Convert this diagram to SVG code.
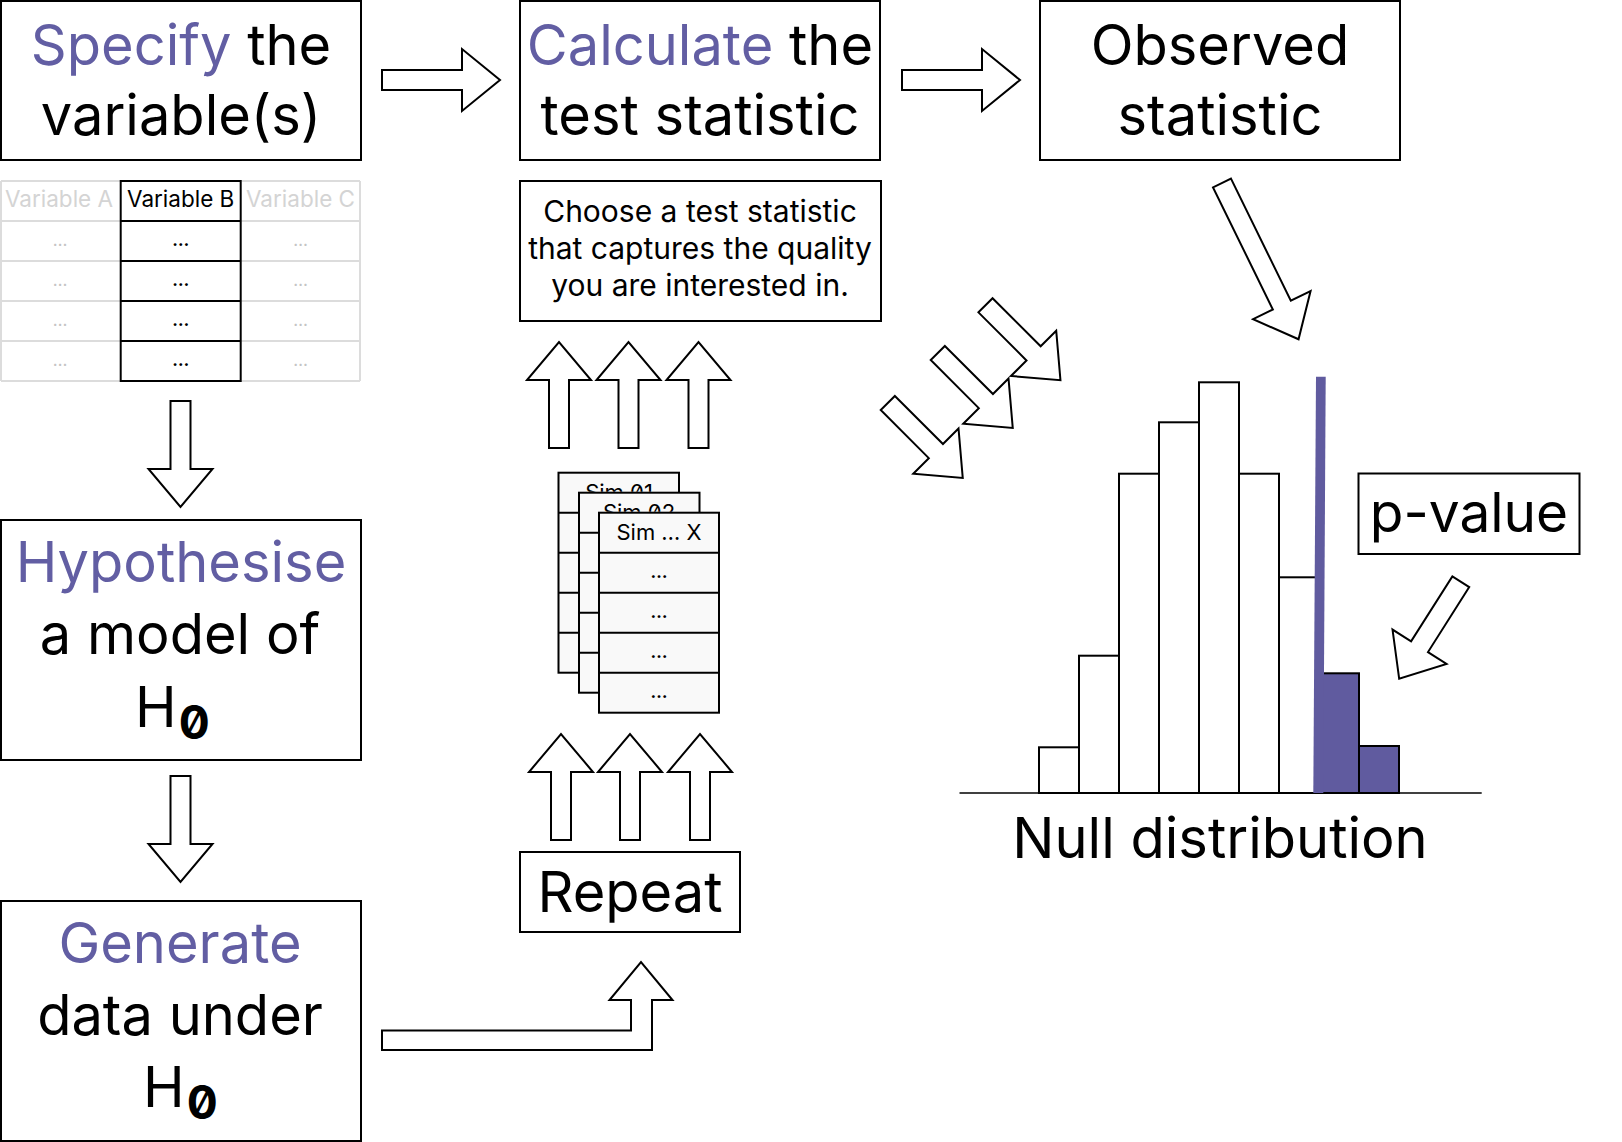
<svg xmlns="http://www.w3.org/2000/svg" width="1622" height="1142" viewBox="0 0 1622 1142">
<defs>
<style>
text{font-family:Inter,"Noto Sans","Liberation Sans",sans-serif;fill:#000}
.big{font-size:56px;text-anchor:middle}
.pur{fill:#625ea3}
.box{fill:#fff;stroke:#000;stroke-width:2}
.arr{fill:#fff;stroke:#000;stroke-width:2;stroke-linejoin:miter}
.gl{stroke:#dcdcdc;stroke-width:2;fill:none}
.bl{stroke:#000;stroke-width:2;fill:none}
.tv{font-size:22px;text-anchor:middle}
.tg{fill:#d4d4d4}
.dots{font-size:17px;text-anchor:middle;font-weight:700}
.dg{fill:#c4c4c4;font-weight:400}
.sim{fill:#f9f9f9;stroke:#000;stroke-width:2}
.z{font-feature-settings:"zero" 1}
.bar{fill:#fff;stroke:#000;stroke-width:2}
.barp{fill:#605b9f;stroke:#000;stroke-width:2}
.ch{font-size:30px;text-anchor:middle}
</style>
<clipPath id="c01"><rect x="558.5" y="472.7" width="120.5" height="19"/></clipPath>
<clipPath id="c02"><rect x="579" y="492.7" width="120.5" height="19"/></clipPath>
<polygon id="arrH" points="0,-10 80,-10 80,-31 118,0 80,31 80,10 0,10"/>
<polygon id="arrV" points="0,-10 68,-10 68,-32 106,0 68,32 68,10 0,10"/>
</defs>

<g id="connectors">
<use href="#arrH" class="arr" transform="translate(382,80)"/>
<use href="#arrH" class="arr" transform="translate(902,80)"/>
<use href="#arrV" class="arr" transform="translate(180.5,401) rotate(90)"/>
<use href="#arrV" class="arr" transform="translate(180.5,776) rotate(90)"/>
<use href="#arrV" class="arr" transform="translate(559,448) rotate(-90)"/>
<use href="#arrV" class="arr" transform="translate(628.5,448) rotate(-90)"/>
<use href="#arrV" class="arr" transform="translate(698.5,448) rotate(-90)"/>
<use href="#arrV" class="arr" transform="translate(561,840) rotate(-90)"/>
<use href="#arrV" class="arr" transform="translate(630,840) rotate(-90)"/>
<use href="#arrV" class="arr" transform="translate(700,840) rotate(-90)"/>
<polygon class="arr" points="382,1030.5 631,1030.5 631,1000 609.5,1000 641,962 672.5,1000 652,1000 652,1050 382,1050"/>
<polygon class="arr" transform="translate(1222,183) rotate(63.9)" points="0,-10 136,-10 136,-32 174,0 136,32 136,10 0,10"/>
<use href="#arrV" class="arr" transform="translate(985.5,305.3) rotate(45)"/>
<use href="#arrV" class="arr" transform="translate(937.8,353) rotate(45)"/>
<use href="#arrV" class="arr" transform="translate(887.8,403) rotate(45)"/>
<polygon class="arr" transform="translate(1460.8,581.7) rotate(122.4)" points="0,-10 77,-10 77,-32 115,0 77,32 77,10 0,10"/>
</g>

<g id="specify">
<rect class="box" x="1" y="1" width="360" height="159"/>
<text class="big" x="181" y="65"><tspan class="pur">Specify</tspan> the</text>
<text class="big" x="181" y="135">variable(s)</text>
</g>

<g id="calculate">
<rect class="box" x="520" y="1" width="360" height="159"/>
<text class="big" x="700" y="65"><tspan class="pur">Calculate</tspan> the</text>
<text class="big" x="700" y="135">test statistic</text>
</g>

<g id="observed">
<rect class="box" x="1040" y="1" width="360" height="159"/>
<text class="big" x="1220" y="65">Observed</text>
<text class="big" x="1220" y="135">statistic</text>
</g>

<g id="variables-table">
<g class="gl">
<line x1="1" y1="181" x2="360" y2="181"/>
<line x1="1" y1="221" x2="360" y2="221"/>
<line x1="1" y1="261" x2="360" y2="261"/>
<line x1="1" y1="301" x2="360" y2="301"/>
<line x1="1" y1="341" x2="360" y2="341"/>
<line x1="1" y1="381" x2="360" y2="381"/>
<line x1="1" y1="181" x2="1" y2="381"/>
<line x1="360" y1="181" x2="360" y2="381"/>
</g>
<rect class="bl" x="120.7" y="181" width="120" height="200"/>
<g class="bl">
<line x1="120.7" y1="221" x2="240.7" y2="221"/>
<line x1="120.7" y1="261" x2="240.7" y2="261"/>
<line x1="120.7" y1="301" x2="240.7" y2="301"/>
<line x1="120.7" y1="341" x2="240.7" y2="341"/>
</g>
<text class="tv tg" x="59" y="207" style="font-size:22.5px">Variable A</text>
<text class="tv" x="180.7" y="207" style="font-size:22.5px">Variable B</text>
<text class="tv tg" x="300.5" y="207" style="font-size:22.5px">Variable C</text>
<text class="dots dg" x="60" y="246">…</text>
<text class="dots dg" x="60" y="286">…</text>
<text class="dots dg" x="60" y="326">…</text>
<text class="dots dg" x="60" y="366">…</text>
<text class="dots" x="180.7" y="246">…</text>
<text class="dots" x="180.7" y="286">…</text>
<text class="dots" x="180.7" y="326">…</text>
<text class="dots" x="180.7" y="366">…</text>
<text class="dots dg" x="300.5" y="246">…</text>
<text class="dots dg" x="300.5" y="286">…</text>
<text class="dots dg" x="300.5" y="326">…</text>
<text class="dots dg" x="300.5" y="366">…</text>
</g>

<g id="hypothesise">
<rect class="box" x="1" y="520" width="360" height="240"/>
<text class="big" x="181" y="582"><tspan class="pur">Hypothesise</tspan></text>
<text class="big" x="180" y="654">a model of</text>
<text x="135" y="727" style="font-size:56px">H<tspan class="z" dx="2" dy="12" style="font-size:46px;font-weight:700">0</tspan></text>
</g>

<g id="generate">
<rect class="box" x="1" y="901" width="360" height="240"/>
<text class="big" x="180" y="963"><tspan class="pur">Generate</tspan></text>
<text class="big" x="180" y="1035">data under</text>
<text x="143" y="1107" style="font-size:56px">H<tspan class="z" dx="2" dy="12" style="font-size:46px;font-weight:700">0</tspan></text>
</g>

<g id="choose">
<rect class="box" x="520" y="181" width="361" height="140"/>
<text class="ch" x="700" y="222">Choose a test statistic</text>
<text class="ch" x="700" y="259">that captures the quality</text>
<text class="ch" x="700" y="296">you are interested in.</text>
</g>

<g id="simulations">
<g id="sim01">
<rect class="sim" x="558.5" y="472.7" width="120.5" height="200"/>
<g class="bl"><line x1="558.5" y1="512.7" x2="679" y2="512.7"/><line x1="558.5" y1="552.7" x2="679" y2="552.7"/><line x1="558.5" y1="592.7" x2="679" y2="592.7"/><line x1="558.5" y1="632.7" x2="679" y2="632.7"/></g>
<text class="tv z" x="619" y="500" clip-path="url(#c01)">Sim 01</text>
</g>
<g id="sim02">
<rect class="sim" x="579" y="492.7" width="120.5" height="200"/>
<g class="bl"><line x1="579" y1="532.7" x2="699.5" y2="532.7"/><line x1="579" y1="572.7" x2="699.5" y2="572.7"/><line x1="579" y1="612.7" x2="699.5" y2="612.7"/><line x1="579" y1="652.7" x2="699.5" y2="652.7"/></g>
<text class="tv z" x="639" y="520" clip-path="url(#c02)">Sim 02</text>
</g>
<g id="simX">
<rect class="sim" x="599" y="512.7" width="120" height="200"/>
<g class="bl"><line x1="599" y1="552.7" x2="719" y2="552.7"/><line x1="599" y1="592.7" x2="719" y2="592.7"/><line x1="599" y1="632.7" x2="719" y2="632.7"/><line x1="599" y1="672.7" x2="719" y2="672.7"/></g>
<text class="tv" x="659" y="540">Sim … X</text>
<text class="dots" x="659" y="578">…</text>
<text class="dots" x="659" y="618">…</text>
<text class="dots" x="659" y="658">…</text>
<text class="dots" x="659" y="698">…</text>
</g>
</g>

<g id="repeat">
<rect class="box" x="520" y="852" width="220" height="80"/>
<text class="big" x="630" y="912">Repeat</text>
</g>

<g id="null-distribution">
<line x1="959.5" y1="793" x2="1481.7" y2="793" stroke="#000" stroke-width="1.5"/>
<rect class="bar" x="1039" y="747.3" width="40" height="45.7"/>
<rect class="bar" x="1079" y="655.7" width="40" height="137.3"/>
<rect class="bar" x="1119" y="473.7" width="40" height="319.3"/>
<rect class="bar" x="1159" y="422.3" width="40" height="370.7"/>
<rect class="bar" x="1199" y="382.3" width="40" height="410.7"/>
<rect class="bar" x="1239" y="473.7" width="40" height="319.3"/>
<rect class="bar" x="1279" y="577.3" width="40" height="215.7"/>
<rect class="barp" x="1319" y="673.3" width="40" height="119.7"/>
<rect class="barp" x="1359" y="746" width="40" height="47"/>
<polygon points="1316,376.7 1325.7,376.7 1323.3,793 1313.3,793" fill="#605b9f"/>
<text class="big" x="1220" y="858">Null distribution</text>
</g>

<g id="p-value">
<rect class="box" x="1358.5" y="473.5" width="221" height="80.5"/>
<text class="big" x="1469" y="532" style="font-size:55px">p-value</text>
</g>
</svg>
